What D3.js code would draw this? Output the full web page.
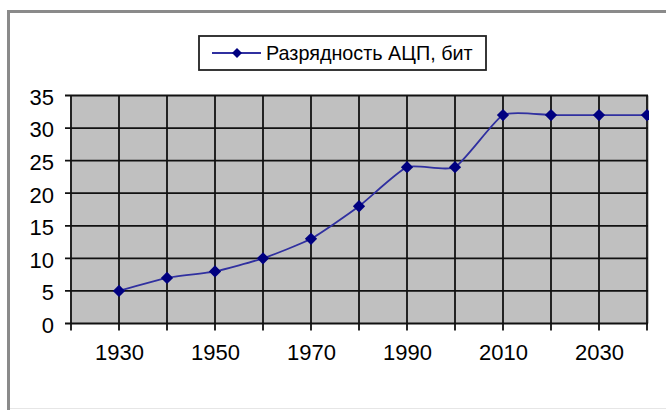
<!DOCTYPE html>
<html>
<head>
<meta charset="utf-8">
<script src="https://cdn.jsdelivr.net/npm/d3@7"></script>
<style>
  body { margin: 0; background: #fff; }
  svg { display: block; font-family: "Liberation Sans", Arial, sans-serif; }
</style>
</head>
<body>
<svg id="canvas"></svg>
<script>
// data
let years = [1930, 1940, 1950, 1960, 1970, 1980, 1990, 2000, 2010, 2020, 2030, 2040];
let bits = [5, 7, 8, 10, 13, 18, 24, 24, 32, 32, 32, 32];
let seriesName = "Разрядность АЦП, бит";
let xTicks = [1930, 1950, 1970, 1990, 2010, 2030];
let xGrid = [1920, 1930, 1940, 1950, 1960, 1970, 1980, 1990, 2000, 2010, 2020, 2030, 2040];
let yTicks = [0, 5, 10, 15, 20, 25, 30, 35];

let width = 666;
let height = 410;

let plot = { left: 71, right: 647, top: 95.5, bottom: 323.5 };

let canvas = d3.select("#canvas").attr("width", width).attr("height", height);

let xScale = d3.scaleLinear().domain([1920, 2040]).range([plot.left, plot.right]);
let yScale = d3.scaleLinear().domain([0, 35]).range([plot.bottom, plot.top]);

// outer chart frame
canvas.append("line")
  .attr("x1", 8.5).attr("x2", 8.5).attr("y1", 10).attr("y2", 410)
  .attr("stroke", "#8a8a8a").attr("stroke-width", 3);
canvas.append("line")
  .attr("x1", 7).attr("x2", 666).attr("y1", 11.5).attr("y2", 11.5)
  .attr("stroke", "#8a8a8a").attr("stroke-width", 3);
canvas.append("line")
  .attr("x1", 10).attr("x2", 666).attr("y1", 408.5).attr("y2", 408.5)
  .attr("stroke", "#e6e6e6").attr("stroke-width", 1);

// plot area
canvas.append("rect")
  .attr("x", plot.left - 1)
  .attr("y", plot.top)
  .attr("width", plot.right - plot.left + 3)
  .attr("height", plot.bottom - plot.top)
  .attr("fill", "#c0c0c0");

canvas.append("clipPath").attr("id", "plotClip")
  .append("rect")
  .attr("x", plot.left - 2)
  .attr("y", plot.top - 8)
  .attr("width", plot.right - plot.left + 4)
  .attr("height", plot.bottom - plot.top + 16);

// grid lines
let grid = canvas.append("g");
grid.selectAll(".vgrid")
  .data(xGrid)
  .enter()
  .append("line")
  .attr("x1", (d) => xScale(d))
  .attr("x2", (d) => xScale(d))
  .attr("y1", plot.top)
  .attr("y2", plot.bottom + 7)
  .attr("stroke", "#111")
  .attr("stroke-width", 1.8);
grid.selectAll(".hgrid")
  .data(yTicks)
  .enter()
  .append("line")
  .attr("x1", plot.left - 6)
  .attr("x2", plot.right + 1)
  .attr("y1", (d) => yScale(d))
  .attr("y2", (d) => yScale(d))
  .attr("stroke", "#111")
  .attr("stroke-width", 1.8);

// axes labels
let yAxis = d3.axisLeft(yScale).tickValues(yTicks).tickSize(0).tickPadding(17);
canvas.append("g")
  .attr("transform", "translate(" + plot.left + ",0)")
  .call(yAxis)
  .call((g) => g.select(".domain").remove())
  .selectAll("text")
  .attr("font-size", 22)
  .attr("font-family", "Liberation Sans, Arial, sans-serif")
  .attr("fill", "#000")
  .attr("dy", "0.4em");

let xAxis = d3.axisBottom(xScale).tickValues(xTicks).tickFormat(d3.format("d")).tickSize(0).tickPadding(21);
canvas.append("g")
  .attr("transform", "translate(0," + plot.bottom + ")")
  .call(xAxis)
  .call((g) => g.select(".domain").remove())
  .selectAll("text")
  .attr("font-size", 22)
  .attr("font-family", "Liberation Sans, Arial, sans-serif")
  .attr("fill", "#000");

// series
let line = d3.line()
  .x((d, i) => xScale(years[i]))
  .y((d) => yScale(d))
  .curve(d3.curveCardinal.tension(0.45));

let series = canvas.append("g").attr("clip-path", "url(#plotClip)");
series.append("path")
  .datum(bits)
  .attr("d", line)
  .attr("fill", "none")
  .attr("stroke", "#3030a0")
  .attr("stroke-width", 1.8);

let diamond = d3.symbol().type(d3.symbolDiamond2).size(96);
series.selectAll(".marker")
  .data(bits)
  .enter()
  .append("path")
  .attr("d", diamond)
  .attr("transform", (d, i) => "translate(" + xScale(years[i]) + "," + yScale(d) + ")")
  .attr("fill", "#000080");

// legend
let legend = canvas.append("g");
legend.append("rect")
  .attr("x", 199).attr("y", 36)
  .attr("width", 287).attr("height", 34)
  .attr("fill", "#fff")
  .attr("stroke", "#222")
  .attr("stroke-width", 1.8);
legend.append("line")
  .attr("x1", 212).attr("x2", 261).attr("y1", 53).attr("y2", 53)
  .attr("stroke", "#3030a0").attr("stroke-width", 1.8);
legend.append("path")
  .attr("d", d3.symbol().type(d3.symbolDiamond2).size(64))
  .attr("transform", "translate(237,53)")
  .attr("fill", "#000080");
legend.append("text")
  .attr("x", 266).attr("y", 60)
  .attr("font-size", 19.8)
  .attr("fill", "#000")
  .text(seriesName);
</script>
</body>
</html>
